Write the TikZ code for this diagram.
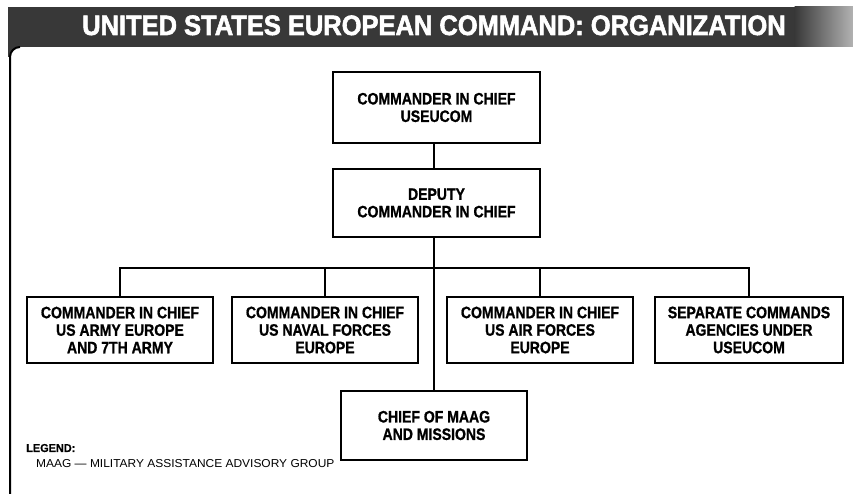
\documentclass[tikz,border=0pt]{standalone}
\usepackage{fontspec}
\setmainfont{Liberation Sans}
\newfontfamily\boxfont{Liberation Sans}[FakeStretch=0.85,FakeBold=1]
\newfontfamily\headfont{Liberation Sans}[FakeStretch=0.91,FakeBold=2]
\newfontfamily\legfont{Liberation Sans}[FakeStretch=1.04]
\newfontfamily\legbold{Liberation Sans}[FakeStretch=0.95,FakeBold=0.5]
\definecolor{band}{gray}{0.22}
\begin{document}
\begin{tikzpicture}[x=1pt,y=1pt,
  box/.style={draw, line width=1.5pt, align=center, inner sep=0pt,
    font=\boxfont\bfseries\fontsize{16.5}{17.5}\selectfont},
  link/.style={line width=2.2pt}]
\useasboundingbox (0,0) rectangle (853,494);
% header band
\fill[band] (8,447) rectangle (795,487);
\shade[left color=band, right color=black!30] (794.5,447) rectangle (853,487);
\fill[band] (8,448) -- (8,437) -- (10,437) arc[start angle=180, end angle=90, radius=10] -- (20,448) -- cycle;
\draw[line width=2pt] (10,0) -- (10,437) arc[start angle=180, end angle=90, radius=10];
\node[text=white, anchor=base west, inner sep=0pt,
  font=\headfont\bfseries\fontsize{28}{30}\selectfont] (title) at (82,459)
  {UNITED STATES EUROPEAN COMMAND: ORGANIZATION};
% boxes
\node[box, minimum width=207pt, minimum height=71pt] (cinc) at (436.5,386.5) {COMMANDER IN CHIEF\\USEUCOM};
\node[box, minimum width=207pt, minimum height=68pt] (dep) at (436.5,291) {DEPUTY\\COMMANDER IN CHIEF};
\node[box, minimum width=186pt, minimum height=66pt] (army) at (120,164) {COMMANDER IN CHIEF\\US ARMY EUROPE\\AND 7TH ARMY};
\node[box, minimum width=186pt, minimum height=66pt] (navy) at (325,164) {COMMANDER IN CHIEF\\US NAVAL FORCES\\EUROPE};
\node[box, minimum width=186pt, minimum height=66pt] (air) at (540,164) {COMMANDER IN CHIEF\\US AIR FORCES\\EUROPE};
\node[box, minimum width=188pt, minimum height=66pt] (sep) at (749,164) {SEPARATE COMMANDS\\AGENCIES UNDER\\USEUCOM};
\node[box, minimum width=186pt, minimum height=69pt] (maag) at (434,68.5) {CHIEF OF MAAG\\AND MISSIONS};
% connectors
\coordinate (bus) at (434,226);
\draw[link] (cinc.south -| maag.north) -- (dep.north -| maag.north);
\draw[link] (dep.south -| maag.north) -- (maag.north);
\draw[link] (army.north) -- (army.north |- bus) -- (sep.north |- bus) -- (sep.north);
\draw[link] (navy.north) -- (navy.north |- bus);
\draw[link] (air.north) -- (air.north |- bus);
% legend
\node[anchor=base west, inner sep=0pt, font=\legbold\bfseries\fontsize{11.5}{12}\selectfont] (leg) at (26,42) {LEGEND:};
\node[anchor=base west, inner sep=0pt, font=\legfont\fontsize{11.5}{12}\selectfont] (legtxt) at (36,26) {MAAG — MILITARY ASSISTANCE ADVISORY GROUP};
\end{tikzpicture}
\end{document}
